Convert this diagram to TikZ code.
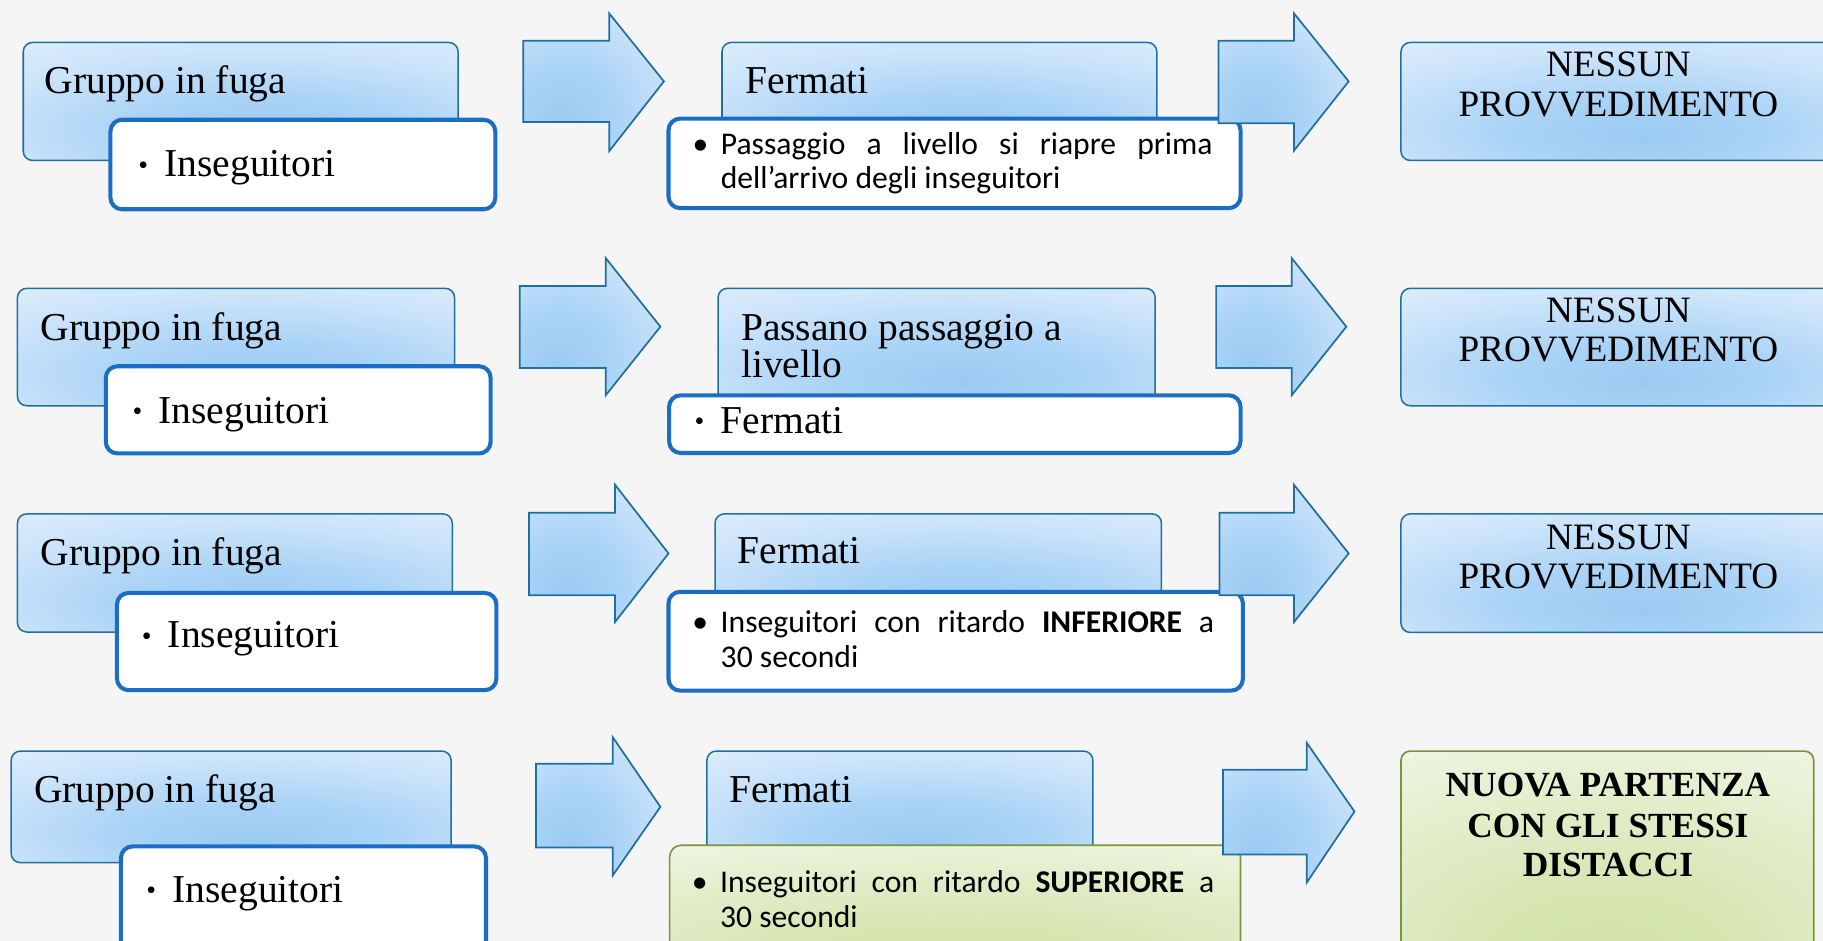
\documentclass[tikz,border=0pt]{standalone}
\usepackage{fontspec}
\setmainfont{Liberation Serif}
\newfontfamily\calib{Carlito}
\definecolor{bgc}{HTML}{F5F5F5}
\definecolor{tealb}{HTML}{1F70A0}
\definecolor{subb}{HTML}{1C6EC4}
\definecolor{grnb}{HTML}{7A963C}
\definecolor{hc0}{HTML}{9ACAF2}
\definecolor{hc1}{HTML}{AAD3F6}
\definecolor{hc2}{HTML}{CCE4FA}
\definecolor{hc3}{HTML}{E8F3FD}
\definecolor{gc0}{HTML}{CFE1A2}
\definecolor{gc1}{HTML}{D8E7B6}
\definecolor{gc2}{HTML}{E6EFD0}
\definecolor{gc3}{HTML}{F5F9EE}
\pgfdeclareradialshading{hdrshade}{\pgfpoint{3bp}{-15bp}}{color(0bp)=(hc0); color(15bp)=(hc1); color(32bp)=(hc2); color(52bp)=(hc3); color(110bp)=(hc3)}
\pgfdeclareradialshading{arrshade}{\pgfpoint{-12bp}{-15bp}}{color(0bp)=(hc0); color(18bp)=(hc1); color(38bp)=(hc2); color(60bp)=(hc3); color(120bp)=(hc3)}
\pgfdeclareradialshading{grnshade}{\pgfpoint{0bp}{-25bp}}{color(0bp)=(gc0); color(18bp)=(gc1); color(36bp)=(gc2); color(56bp)=(gc3); color(120bp)=(gc3)}
\newcommand\mkbox[6]{\node[#2, anchor=north west, minimum width={(#5-(#3))*0.5pt}, minimum height={(#6-(#4))*0.5pt}] (#1) at (#3,#4) {};}
\newcommand\mkarrow[8]{\path[arr] (#1,#5) -- (#2,#5) -- (#2,#4) -- (#3,#8) -- (#2,#7) -- (#2,#6) -- (#1,#6) -- cycle;}
\newcommand\sbul{\llap{\raisebox{1pt}{\fontsize{12pt}{12pt}\selectfont •}\hskip 7pt}}
\tikzset{
 hdr/.style={draw=tealb, line width=0.65pt, rounded corners=4pt, shade, shading=hdrshade, inner sep=0pt, outer sep=0pt},
 grnhdr/.style={draw=grnb, line width=0.7pt, rounded corners=4pt, shade, shading=grnshade, inner sep=0pt, outer sep=0pt},
 subbox/.style={draw=subb, line width=1.75pt, rounded corners=5pt, fill=white, inner sep=0pt, outer sep=0pt},
 grnsub/.style={draw=grnb, line width=0.7pt, rounded corners=5pt, shade, shading=grnshade, inner sep=0pt, outer sep=0pt},
 arr/.style={draw=tealb, line width=0.75pt, shade, shading=arrshade, line join=miter},
 ttl/.style={inner sep=0pt, anchor=base west, font=\fontsize{17pt}{19pt}\selectfont},
 caps/.style={inner sep=0pt, anchor=base, font=\fontsize{16pt}{18pt}\selectfont},
 bcaps/.style={inner sep=0pt, anchor=base, font=\fontsize{15.2pt}{17pt}\selectfont\bfseries},
 body/.style={inner sep=0pt, anchor=base west, font=\calib\fontsize{13.6pt}{15pt}\selectfont},
}
\begin{document}
\begin{tikzpicture}[x=0.5pt,y=-0.5pt]
\useasboundingbox (0,0) rectangle (1568,809);
\clip (0,0) rectangle (1568,809);
\fill[bgc] (0,0) rectangle (1568,809);
% row 1
\mkbox{h11}{hdr}{20}{36.5}{394}{138}
\mkbox{s11}{subbox}{95}{103}{426}{180}
\mkbox{h12}{hdr}{621}{36.5}{995}{138}
\mkbox{s12}{subbox}{575}{102}{1067}{179}
\mkbox{h13}{hdr}{1205}{36.5}{1579}{138}
% row 2
\mkbox{h21}{hdr}{15}{248}{391}{349}
\mkbox{s21}{subbox}{91}{315}{422}{390}
\mkbox{h22}{hdr}{617.6}{248}{993.6}{349}
\mkbox{s22}{subbox}{575.5}{340}{1067}{389.6}
\mkbox{h23}{hdr}{1205}{248}{1579}{349}
% row 3
\mkbox{h31}{hdr}{15}{442}{389}{543.6}
\mkbox{s31}{subbox}{100.6}{510}{427}{593.6}
\mkbox{h32}{hdr}{615}{442}{999}{543.6}
\mkbox{s32}{subbox}{575}{509}{1069}{594}
\mkbox{h33}{hdr}{1205}{442}{1579}{544}
% row 4
\mkbox{h41}{hdr}{9.6}{646}{388}{742}
\mkbox{s41}{subbox}{104}{728}{418}{835}
\mkbox{h42}{hdr}{608}{646}{940}{742}
\mkbox{s42}{grnsub}{576}{727}{1067}{835}
\mkbox{h43}{grnhdr}{1205}{646}{1560}{835}
% arrows
\mkarrow{450}{524}{571}{11.5}{35}{105}{130}{70}
\mkarrow{1048}{1113}{1160}{11.5}{35}{106}{129.5}{70}
\mkarrow{447}{521}{568}{222}{246}{316.6}{340}{281}
\mkarrow{1046}{1111}{1158}{222}{246}{316.6}{340}{281}
\mkarrow{455}{529}{575}{417}{441}{512}{535}{476}
\mkarrow{1049}{1113}{1160}{417}{441}{512}{535}{476}
\mkarrow{461}{527}{568}{634}{657}{729}{753}{694}
\mkarrow{1052}{1124}{1165}{639}{662}{735}{759}{698}
% texts row 1
\node[ttl] (g1) at (38,80) {Gruppo in fuga};
\node[ttl] (i1) at (141,152) {\sbul Inseguitori};
\node[ttl] (f1) at (641,80) {Fermati};
\node[body] (b1a) at (619.6,133) {\llap{•\hskip 5.4pt}\makebox[211.5pt][s]{Passaggio a livello si riapre prima}};
\node[body] (b1b) at (619.6,162) {dell’arrivo degli inseguitori};
\node[caps] (n1a) at (1392,66) {NESSUN};
\node[caps] (n1b) at (1392,100) {PROVVEDIMENTO};
% texts row 2
\node[ttl] (g2) at (34.6,292.6) {Gruppo in fuga};
\node[ttl] (i2) at (136,364) {\sbul Inseguitori};
\node[ttl] (p2a) at (637,292.6) {Passano passaggio a};
\node[ttl] (p2b) at (637,325) {livello};
\node[ttl] (f2) at (619.5,372.7) {\sbul Fermati};
\node[caps] (n2a) at (1392,277) {NESSUN};
\node[caps] (n2b) at (1392,311) {PROVVEDIMENTO};
% texts row 3
\node[ttl] (g3) at (34.6,486) {Gruppo in fuga};
\node[ttl] (i3) at (144,557) {\sbul Inseguitori};
\node[ttl] (f3) at (634,484.5) {Fermati};
\node[body] (b3a) at (619.5,544) {\llap{•\hskip 5.4pt}\makebox[212.2pt][s]{Inseguitori con ritardo \textbf{INFERIORE} a}};
\node[body] (b3b) at (619.5,574) {30 secondi};
\node[caps] (n3a) at (1392,473) {NESSUN};
\node[caps] (n3b) at (1392,506) {PROVVEDIMENTO};
% texts row 4
\node[ttl] (g4) at (29,690) {Gruppo in fuga};
\node[ttl] (i4) at (148,776) {\sbul Inseguitori};
\node[ttl] (f4) at (627,690) {Fermati};
\node[body] (b4a) at (619,768) {\llap{•\hskip 5.4pt}\makebox[212.5pt][s]{Inseguitori con ritardo \textbf{SUPERIORE} a}};
\node[body] (b4b) at (619,798) {30 secondi};
\node[bcaps] (z4a) at (1383,685.5) {NUOVA PARTENZA};
\node[bcaps] (z4b) at (1383,720) {CON GLI STESSI};
\node[bcaps] (z4c) at (1383,754) {DISTACCI};
\end{tikzpicture}
\end{document}
